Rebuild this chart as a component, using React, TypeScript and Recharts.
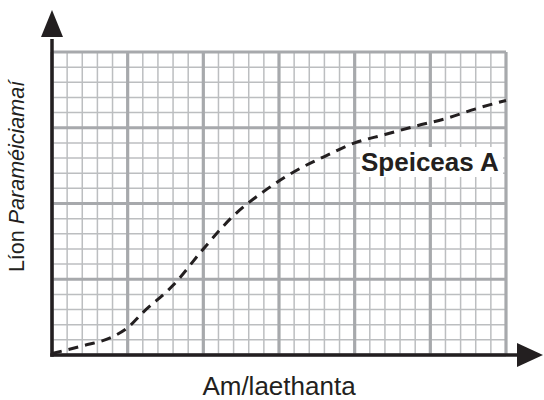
import {
  LineChart,
  Line,
  XAxis,
  YAxis,
  ReferenceLine,
} from 'recharts'

// time in days (one small grid square each) and population in small squares
const days = [0, 2, 4, 5, 6, 8, 10, 12, 14, 16, 18, 20, 22, 24, 26, 28, 30]
const speciesA = [0.1, 0.6, 1.2, 1.8, 2.8, 4.6, 7.0, 9.2, 10.8, 12.1, 13.1, 14.0, 14.55, 15.1, 15.6, 16.25, 16.8]

const minorX = Array.from({ length: 31 }, (_, i) => i)
const minorY = Array.from({ length: 21 }, (_, i) => i)
const majorX = [0, 5, 10, 15, 20, 25, 30]
const majorY = [0, 5, 10, 15, 20]

const xLabel = 'Am/laethanta'
const yLabelPlain = 'Líon '
const yLabelItalic = 'Paraméiciamaí'
const seriesName = 'Speiceas A'

const INK = '#231f20'
const MINOR = '#bcbec0'
const MAJOR = '#a7a9ac'
const FONT = '"Liberation Sans", Arial, Helvetica, sans-serif'

const chartData = days.map((d, i) => ({ day: d, a: speciesA[i] }))

function AxisArrow(props: any) {
  const { x1, y1, x2, y2 } = props
  const vertical = Math.abs(x1 - x2) < 1
  if (vertical) {
    // y axis, drawn upward past the plot
    const tipY = y2 - 42
    const baseY = tipY + 27
    return (
      <g>
        <line x1={x1} y1={y1 + 1.8} x2={x2} y2={baseY + 2} stroke={INK} strokeWidth={3.5} />
        <polygon points={`${x2},${tipY} ${x2 - 11},${baseY} ${x2 + 11},${baseY}`} fill={INK} />
      </g>
    )
  }
  const tipX = x2 + 37
  const baseX = tipX - 26
  return (
    <g>
      <line x1={x1 - 1.8} y1={y1} x2={baseX + 2} y2={y2} stroke={INK} strokeWidth={3.5} />
      <polygon points={`${tipX},${y2} ${baseX},${y2 - 12} ${baseX},${y2 + 12}`} fill={INK} />
    </g>
  )
}

export default function App() {
  return (
    <div style={{ position: 'absolute', left: 0, top: 0, width: 544, height: 400, background: '#fff' }}>
      <LineChart
        width={544}
        height={400}
        data={chartData}
        margin={{ top: 52, right: 38, bottom: 0, left: 0 }}
      >
        <XAxis
          dataKey="day"
          type="number"
          domain={[0, 30]}
          height={45}
          tick={false}
          tickLine={false}
          axisLine={false}
          label={{
            content: (p: any) => {
              const vb = p.viewBox
              return (
                <text
                  x={vb.x + vb.width / 2}
                  y={395}
                  textAnchor="middle"
                  fontFamily={FONT}
                  fontSize={26}
                  fill={INK}
                >
                  {xLabel}
                </text>
              )
            },
          }}
        />
        <YAxis
          type="number"
          domain={[0, 20]}
          width={52}
          tick={false}
          tickLine={false}
          axisLine={false}
          label={{
            content: (p: any) => {
              const vb = p.viewBox
              const cx = 24
              const cy = vb.y + vb.height / 2 - 27
              return (
                <text
                  x={cx}
                  y={cy}
                  transform={`rotate(-90, ${cx}, ${cy})`}
                  textAnchor="middle"
                  fontFamily={FONT}
                  fontSize={21.5}
                  fill={INK}
                >
                  {yLabelPlain}
                  <tspan fontStyle="italic">{yLabelItalic}</tspan>
                </text>
              )
            },
          }}
        />
        {minorX.map((v) => (
          <ReferenceLine key={`mx${v}`} x={v} stroke={MINOR} strokeWidth={1.5} />
        ))}
        {minorY.map((v) => (
          <ReferenceLine key={`my${v}`} y={v} stroke={MINOR} strokeWidth={1.5} />
        ))}
        {majorX.map((v) => (
          <ReferenceLine key={`Mx${v}`} x={v} stroke={MAJOR} strokeWidth={3.2} />
        ))}
        {majorY.map((v) => (
          <ReferenceLine key={`My${v}`} y={v} stroke={MAJOR} strokeWidth={3.2} />
        ))}
        <Line
          type="monotone"
          dataKey="a"
          stroke={INK}
          strokeWidth={3}
          strokeDasharray="10 7"
          dot={false}
          activeDot={false}
          isAnimationActive={false}
        />
        <ReferenceLine
          segment={[{ x: 0, y: 0 }, { x: 30, y: 0 }]}
          ifOverflow="visible"
          shape={AxisArrow}
        />
        <ReferenceLine
          segment={[{ x: 0, y: 0 }, { x: 0, y: 20 }]}
          ifOverflow="visible"
          shape={AxisArrow}
        />
      </LineChart>
      <div
        style={{
          position: 'absolute',
          left: 360,
          top: 147,
          width: 143,
          height: 30,
          background: '#fff',
          fontFamily: FONT,
          fontWeight: 'bold',
          fontSize: 26,
          lineHeight: '30px',
          color: INK,
          paddingLeft: 1,
          boxSizing: 'border-box',
          whiteSpace: 'nowrap',
        }}
      >
        {seriesName}
      </div>
    </div>
  )
}
